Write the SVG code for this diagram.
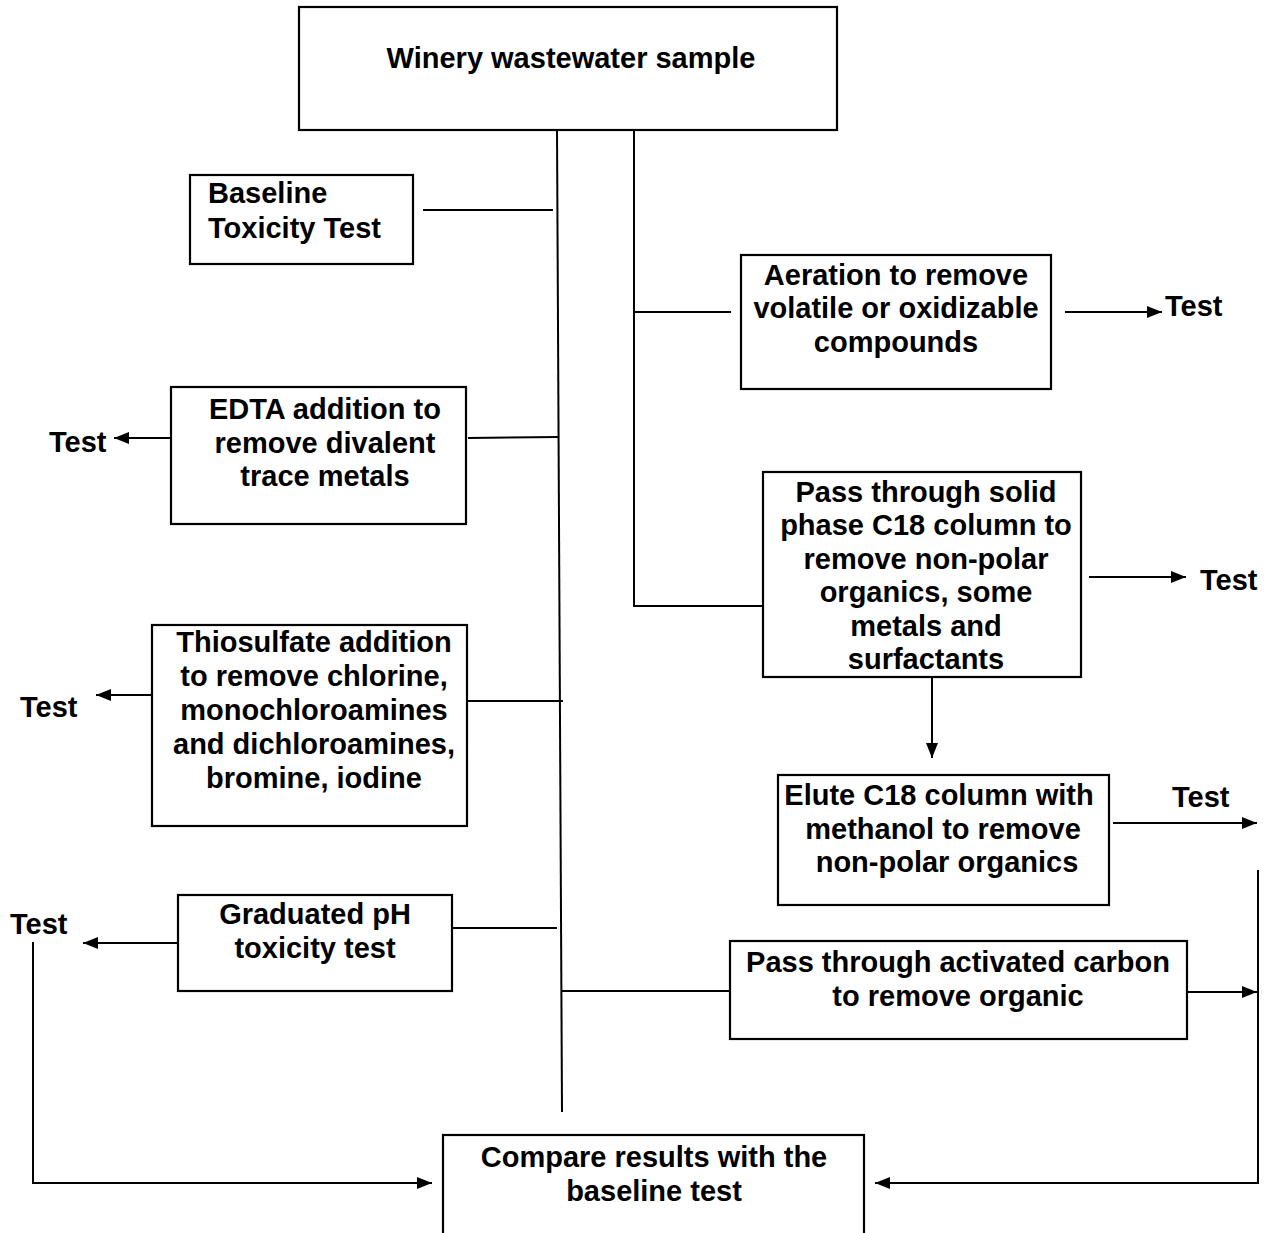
<svg xmlns="http://www.w3.org/2000/svg" width="1271" height="1233" viewBox="0 0 1271 1233">
<style>
  .box{fill:#fff;stroke:#000;stroke-width:2.2}
  .t{font-family:"Liberation Sans",Arial,sans-serif;font-weight:bold;font-size:29px;fill:#000}
  .c{text-anchor:middle}
  .ln{fill:none;stroke:#000;stroke-width:2}
</style>
<defs>
  <marker id="ah" markerUnits="userSpaceOnUse" markerWidth="16" markerHeight="14" refX="15" refY="7" orient="auto">
    <path d="M0,1 L15,7 L0,13 Z" fill="#000"/>
  </marker>
</defs>
<rect width="1271" height="1233" fill="#fff"/>
<g id="connectors">
  <line class="ln" x1="557" y1="129" x2="562" y2="1112"/>
  <line class="ln" x1="634" y1="129" x2="634" y2="607"/>
  <line class="ln" x1="423" y1="210" x2="553" y2="210"/>
  <line class="ln" x1="468" y1="438" x2="558" y2="437"/>
  <line class="ln" x1="468" y1="701" x2="563" y2="701"/>
  <line class="ln" x1="441" y1="928" x2="557" y2="928"/>
  <line class="ln" x1="562" y1="991" x2="730" y2="991"/>
  <line class="ln" x1="634" y1="312" x2="731" y2="312"/>
  <line class="ln" x1="634" y1="606" x2="769" y2="606"/>
  <line class="ln" x1="1065" y1="312" x2="1162" y2="312" marker-end="url(#ah)"/>
  <line class="ln" x1="1089" y1="577" x2="1186" y2="577" marker-end="url(#ah)"/>
  <line class="ln" x1="1113" y1="823" x2="1257" y2="823" marker-end="url(#ah)"/>
  <line class="ln" x1="1187" y1="992" x2="1257" y2="992" marker-end="url(#ah)"/>
  <line class="ln" x1="932" y1="672" x2="932" y2="758" marker-end="url(#ah)"/>
  <line class="ln" x1="173" y1="438" x2="114" y2="438" marker-end="url(#ah)"/>
  <line class="ln" x1="158" y1="695" x2="96" y2="695" marker-end="url(#ah)"/>
  <line class="ln" x1="178" y1="943" x2="83" y2="943" marker-end="url(#ah)"/>
  <polyline class="ln" points="33,942 33,1183 432,1183" marker-end="url(#ah)"/>
  <polyline class="ln" points="1258,870 1258,1183 875,1183" marker-end="url(#ah)"/>
</g>
<g id="n-sample">
  <rect class="box" x="299" y="7" width="538" height="123"/>
  <text class="t c" x="571" y="68">Winery wastewater sample</text>
</g>
<g id="n-baseline">
  <rect class="box" x="190" y="175" width="223" height="89"/>
  <text class="t" x="208" y="203">Baseline</text>
  <text class="t" x="208" y="238">Toxicity Test</text>
</g>
<g id="n-aeration">
  <rect class="box" x="741" y="255" width="310" height="134"/>
  <text class="t c" x="896" y="285">Aeration to remove</text>
  <text class="t c" x="896" y="318">volatile or oxidizable</text>
  <text class="t c" x="896" y="352">compounds</text>
</g>
<g id="n-test-aeration"><text class="t" x="1165" y="316">Test</text></g>
<g id="n-edta">
  <rect class="box" x="171" y="387" width="295" height="137"/>
  <text class="t c" x="325" y="419">EDTA addition to</text>
  <text class="t c" x="325" y="453">remove divalent</text>
  <text class="t c" x="325" y="486">trace metals</text>
</g>
<g id="n-test-edta"><text class="t" x="49" y="452">Test</text></g>
<g id="n-c18">
  <rect class="box" x="763" y="472" width="318" height="205"/>
  <text class="t c" x="926" y="502">Pass through solid</text>
  <text class="t c" x="926" y="535">phase C18 column to</text>
  <text class="t c" x="926" y="569">remove non-polar</text>
  <text class="t c" x="926" y="602">organics, some</text>
  <text class="t c" x="926" y="636">metals and</text>
  <text class="t c" x="926" y="669">surfactants</text>
</g>
<g id="n-test-c18"><text class="t" x="1200" y="590">Test</text></g>
<g id="n-thio">
  <rect class="box" x="152" y="625" width="315" height="201"/>
  <text class="t c" x="314" y="652">Thiosulfate addition</text>
  <text class="t c" x="314" y="686">to remove chlorine,</text>
  <text class="t c" x="314" y="720">monochloroamines</text>
  <text class="t c" x="314" y="754">and dichloroamines,</text>
  <text class="t c" x="314" y="788">bromine, iodine</text>
</g>
<g id="n-test-thio"><text class="t" x="20" y="717">Test</text></g>
<g id="n-elute">
  <rect class="box" x="778" y="775" width="331" height="130"/>
  <text class="t c" x="939" y="805">Elute C18 column with</text>
  <text class="t c" x="943" y="839">methanol to remove</text>
  <text class="t c" x="947" y="872">non-polar organics</text>
</g>
<g id="n-test-elute"><text class="t" x="1172" y="807">Test</text></g>
<g id="n-ph">
  <rect class="box" x="178" y="895" width="274" height="96"/>
  <text class="t c" x="315" y="924">Graduated pH</text>
  <text class="t c" x="315" y="958">toxicity test</text>
</g>
<g id="n-test-ph"><text class="t" x="10" y="934">Test</text></g>
<g id="n-carbon">
  <rect class="box" x="730" y="941" width="457" height="98"/>
  <text class="t c" x="958" y="972">Pass through activated carbon</text>
  <text class="t c" x="958" y="1006">to remove organic</text>
</g>
<g id="n-compare">
  <rect class="box" x="443" y="1135" width="421" height="110"/>
  <text class="t c" x="654" y="1167">Compare results with the</text>
  <text class="t c" x="654" y="1201">baseline test</text>
</g>
</svg>
